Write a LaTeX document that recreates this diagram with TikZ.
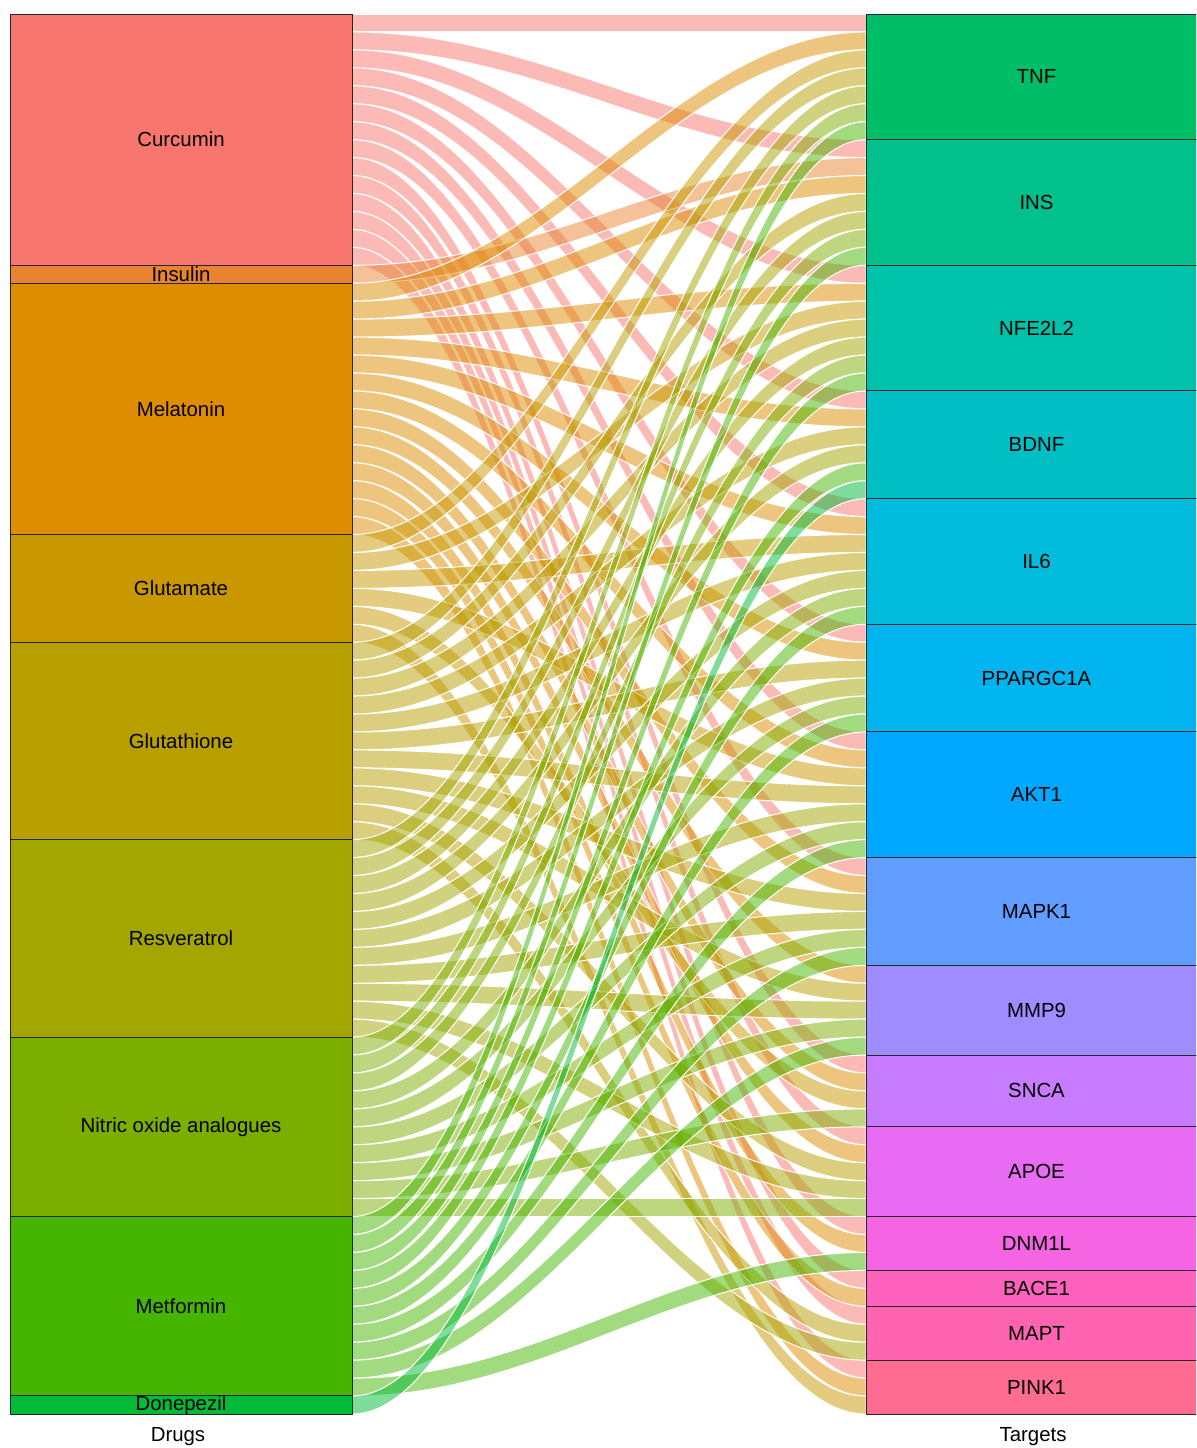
\documentclass[tikz,border=0pt]{standalone}
\usepackage{fontspec}
\setmainfont{Liberation Sans}
% drug colours
\definecolor{curcumin}{HTML}{F8766D}
\definecolor{insulin}{HTML}{EA8331}
\definecolor{melatonin}{HTML}{DE8C00}
\definecolor{glutamate}{HTML}{C99800}
\definecolor{glutathione}{HTML}{B79F00}
\definecolor{resveratrol}{HTML}{A3A500}
\definecolor{nitric}{HTML}{7CAE00}
\definecolor{metformin}{HTML}{45B500}
\definecolor{donepezil}{HTML}{00BA38}
% target colours
\definecolor{tnf}{HTML}{00BE67}
\definecolor{ins}{HTML}{00C08B}
\definecolor{nfe}{HTML}{00C1A9}
\definecolor{bdnf}{HTML}{00BFC4}
\definecolor{il}{HTML}{00BBDB}
\definecolor{ppar}{HTML}{00B4F0}
\definecolor{akt}{HTML}{00A9FF}
\definecolor{mapk}{HTML}{619CFF}
\definecolor{mmp}{HTML}{9F8CFF}
\definecolor{snca}{HTML}{C77CFF}
\definecolor{apoe}{HTML}{E76BF3}
\definecolor{dnm}{HTML}{F564E3}
\definecolor{bace}{HTML}{FF62BC}
\definecolor{mapt}{HTML}{FF64B0}
\definecolor{pink}{HTML}{FF6C91}
\begin{document}
\begin{tikzpicture}[x=0.5pt,y=-0.5pt,
  stratum/.style={draw=black!85,line width=0.5pt,inner sep=0pt,
    font=\fontsize{10.2}{12}\selectfont},
  leftstratum/.style={stratum,minimum width=171pt},
  rightstratum/.style={stratum,minimum width=170.5pt},
  flowband/.style={draw=white,line width=0.5pt,fill opacity=0.5},
  axislabel/.style={font=\fontsize{10.2}{12}\selectfont}
]
\useasboundingbox (0,0) rectangle (1196,1448);
\clip (0,0) rectangle (1196,1448);
\def\unitpx{17.949}
% flows: each drug lists its targets, top to bottom
\foreach \tg/\s in {1/0,2/7,3/14,4/21,5/27,6/34,7/40,8/47,9/53,10/58,11/62,12/67,13/70,14/72,15/75}
  {\expandafter\xdef\csname tslot\tg\endcsname{\s}}
\xdef\lslot{0}
\foreach \drug/\tlist in {curcumin/{1,2,3,4,5,6,7,8,10,11,12,13,14,15},
    insulin/{2},
    melatonin/{1,2,3,4,5,6,7,8,9,10,11,12,13,15},
    glutamate/{1,3,5,7,10,15},
    glutathione/{1,2,3,4,5,6,7,8,9,11,14},
    resveratrol/{1,2,3,4,5,6,7,8,9,11,14},
    nitric/{1,2,3,5,6,7,8,9,10,11},
    metformin/{1,2,3,4,5,6,7,8,9,12},
    donepezil/{4}}{
  \foreach \tg in \tlist {
    \edef\rslot{\csname tslot\tg\endcsname}
    \pgfmathsetmacro\yl{14+\lslot*\unitpx}
    \pgfmathsetmacro\yr{14+\rslot*\unitpx}
    \filldraw[flowband,fill=\drug] (352,\yl) .. controls (542,\yl) and (676,\yr) .. (866,\yr)
      -- (866,\yr+\unitpx) .. controls (676,\yr+\unitpx) and (542,\yl+\unitpx) .. (352,\yl+\unitpx) -- cycle;
    \pgfmathtruncatemacro\nextl{\lslot+1}\xdef\lslot{\nextl}
    \pgfmathtruncatemacro\nextr{\rslot+1}\expandafter\xdef\csname tslot\tg\endcsname{\nextr}
  }
}
% strata
\foreach \name/\label/\n/\s in {curcumin/Curcumin/14/0,insulin/Insulin/1/14,
    melatonin/Melatonin/14/15,glutamate/Glutamate/6/29,glutathione/Glutathione/11/35,
    resveratrol/Resveratrol/11/46,nitric/Nitric oxide analogues/10/57,
    metformin/Metformin/10/67,donepezil/Donepezil/1/77}
  \node[leftstratum,fill=\name,minimum height=\n*8.9745pt]
    (\name) at (181,{14+(\s+\n/2)*\unitpx}) {\label};
\foreach \name/\label/\n/\s in {tnf/TNF/7/0,ins/INS/7/7,nfe/NFE2L2/7/14,bdnf/BDNF/6/21,
    il/IL6/7/27,ppar/PPARGC1A/6/34,akt/AKT1/7/40,mapk/MAPK1/6/47,mmp/MMP9/5/53,
    snca/SNCA/4/58,apoe/APOE/5/62,dnm/DNM1L/3/67,bace/BACE1/2/70,mapt/MAPT/3/72,
    pink/PINK1/3/75}
  \node[rightstratum,fill=\name,minimum height=\n*8.9745pt]
    (\name) at (1036.5,{14+(\s+\n/2)*\unitpx}) {\label};
% axis labels
\node[axislabel] (drugs) at (178,1437) {Drugs};
\node[axislabel] (targets) at (1033,1437) {Targets};
\end{tikzpicture}
\end{document}
